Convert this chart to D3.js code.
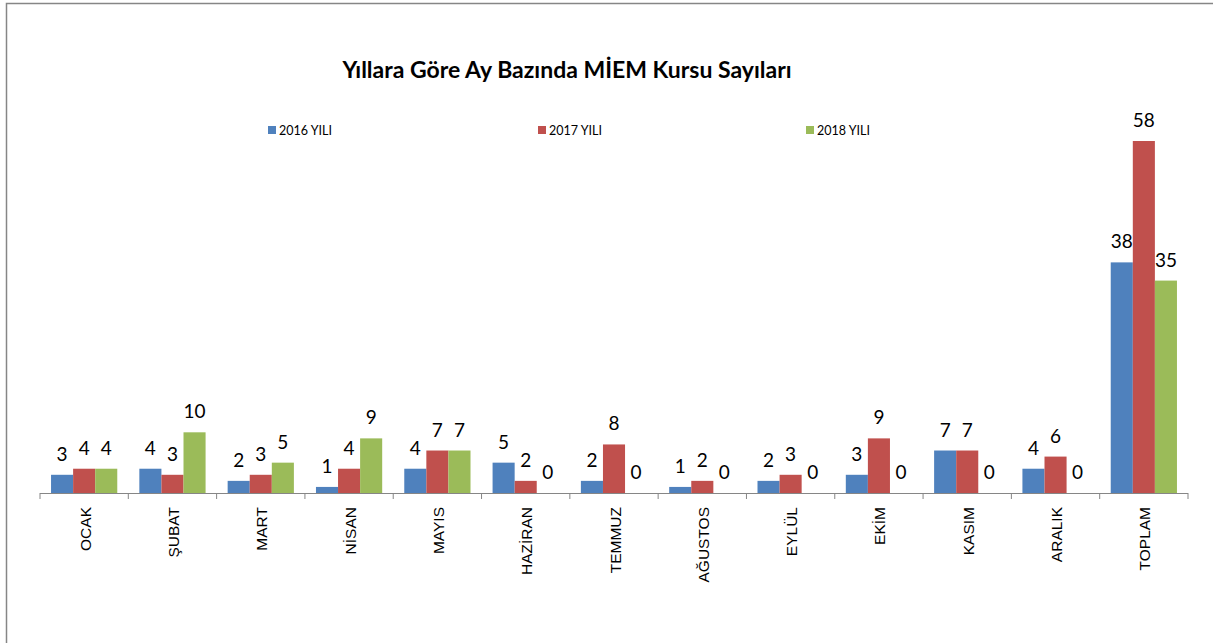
<!DOCTYPE html>
<html>
<head>
<meta charset="utf-8">
<script src="https://cdn.jsdelivr.net/npm/d3@7"></script>
<style>
  body { margin: 0; background: #fff; }
  svg { display: block; }
</style>
</head>
<body>
<div id="root"></div>
<script>
const w = 1213;
const h = 643;

const categories = ["OCAK", "ŞUBAT", "MART", "NİSAN", "MAYIS", "HAZİRAN", "TEMMUZ", "AĞUSTOS", "EYLÜL", "EKİM", "KASIM", "ARALIK", "TOPLAM"];
const seriesNames = ["2016 YILI", "2017 YILI", "2018 YILI"];
const values2016 = [3, 4, 2, 1, 4, 5, 2, 1, 2, 3, 7, 4, 38];
const values2017 = [4, 3, 3, 4, 7, 2, 8, 2, 3, 9, 7, 6, 58];
const values2018 = [4, 10, 5, 9, 7, 0, 0, 0, 0, 0, 0, 0, 35];
const colors = ["#4F81BD", "#C0504D", "#9BBB59"];

const allValues = [values2016, values2017, values2018];

const svg = d3.select("#root")
  .append("svg")
  .attr("width", w)
  .attr("height", h);

// chart frame (only top/left visible in the crop)
svg.append("rect")
  .attr("x", 6.5)
  .attr("y", 3.5)
  .attr("width", w + 20)
  .attr("height", h + 20)
  .attr("fill", "none")
  .attr("stroke", "#868686")
  .attr("stroke-width", 1.5);

svg.append("text")
  .attr("x", 567)
  .attr("y", 78)
  .attr("text-anchor", "middle")
  .attr("font-family", "Lato")
  .attr("font-weight", "bold")
  .attr("font-size", 23)
  .attr("fill", "#000")
  .text("Yıllara Göre Ay Bazında MİEM Kursu Sayıları");

const x0 = d3.scaleBand()
  .domain(categories)
  .range([40, 1188])
  .padding(0);

const x1 = d3.scaleBand()
  .domain(seriesNames)
  .range([0, x0.bandwidth()])
  .paddingInner(0)
  .paddingOuter(0.5);

const y = d3.scaleLinear()
  .domain([0, 58])
  .range([493, 141]);

const data = [];
categories.forEach((c, i) => {
  seriesNames.forEach((s, j) => {
    data.push({ cat: c, series: s, value: allValues[j][i], color: colors[j] });
  });
});

svg.append("g")
  .selectAll("rect")
  .data(data)
  .join("rect")
  .attr("x", (d) => x0(d.cat) + x1(d.series))
  .attr("y", (d) => y(d.value))
  .attr("width", x1.bandwidth())
  .attr("height", (d) => y(0) - y(d.value))
  .attr("fill", (d) => d.color);

svg.append("g")
  .selectAll("text")
  .data(data)
  .join("text")
  .attr("x", (d) => x0(d.cat) + x1(d.series) + x1.bandwidth() / 2)
  .attr("y", (d) => y(d.value) - 14)
  .attr("text-anchor", "middle")
  .attr("font-family", "Lato")
  .attr("font-size", 19)
  .attr("fill", "#000")
  .text((d) => d.value);

// category axis
const xAxis = d3.axisBottom(x0)
  .tickSize(0)
  .tickFormat("");

const axisG = svg.append("g")
  .attr("transform", `translate(0,${y(0)})`)
  .call(xAxis);
axisG.select(".domain").attr("stroke", "#868686").attr("d", "M40,0.5H1188");

axisG.selectAll(".boundary")
  .data(d3.range(categories.length + 1))
  .join("line")
  .attr("class", "boundary")
  .attr("x1", (i) => 40 + i * x0.step())
  .attr("x2", (i) => 40 + i * x0.step())
  .attr("y1", 0)
  .attr("y2", 6)
  .attr("stroke", "#868686");

svg.append("g")
  .selectAll("text")
  .data(categories)
  .join("text")
  .attr("transform", (d) => `translate(${x0(d) + x0.bandwidth() / 2 + 1}, 507) rotate(-90)`)
  .attr("text-anchor", "end")
  .attr("dominant-baseline", "central")
  .attr("font-family", "Liberation Sans")
  .attr("font-size", 15.5)
  .attr("fill", "#000")
  .text((d) => d);

// legend
const legendX = [268, 538, 806];
const legend = svg.append("g")
  .selectAll("g")
  .data(seriesNames)
  .join("g")
  .attr("transform", (d, i) => `translate(${legendX[i]}, 126)`);

legend.append("rect")
  .attr("width", 8)
  .attr("height", 8)
  .attr("fill", (d, i) => colors[i]);

legend.append("text")
  .attr("x", 11)
  .attr("y", 8.5)
  .attr("font-family", "Lato")
  .attr("font-size", 12.5)
  .attr("fill", "#000")
  .text((d) => d);
</script>
</body>
</html>
